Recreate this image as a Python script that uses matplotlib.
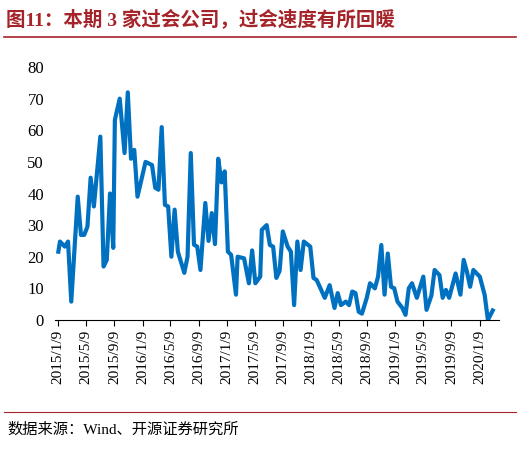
import numpy as np
import pandas as pd
import matplotlib
matplotlib.use('Agg')
import matplotlib.pyplot as plt

plt.rcParams['font.family'] = ['Liberation Serif', 'Noto Sans CJK SC']

# 周序号（自2015/1/9起）与过会家数
weeks = [0, 1, 4, 6, 8, 12, 14, 16, 18, 20, 22, 26, 28, 30, 32, 34, 35, 38, 41, 43,
         45, 47, 49, 54, 58, 60, 62, 64, 66, 68, 70, 72, 74, 78, 80, 82, 84, 86, 88, 91,
         93, 95, 97, 99, 101, 103, 105, 107, 110, 111, 115, 118, 120, 122, 125, 126, 129, 131, 133, 135,
         137, 139, 142, 144, 146, 148, 150, 152, 156, 158, 160, 165, 168, 171, 173, 175, 178, 180, 182, 184,
         186, 188, 191, 193, 196, 198, 200, 202, 204, 206, 208, 210, 213, 215, 217, 219, 222, 226, 228, 231,
         233, 236, 238, 240, 242, 246, 249, 251, 253, 255, 257, 261, 264, 266, 269]
values = [21.6, 24.8, 23.2, 24.8, 5.8, 39, 26.9, 26.9, 29.5, 45, 35.9, 58, 16.9, 19, 40, 22.8, 63.3, 70, 52.8, 72,
          51, 53.8, 39, 50, 49, 41.8, 41.2, 61, 36.4, 35.9, 20, 34.9, 21.6, 14.9, 20, 52.8, 23.8, 23.2, 15.8, 37,
          25, 33.8, 24, 51, 43.5, 47, 21.6, 20.6, 8, 20, 19.5, 11.6, 22, 11.6, 13.7, 28.5, 30, 23.7, 23.2, 13.3,
          15.5, 28, 23.2, 21.6, 4.7, 24.8, 15.8, 24.8, 23.2, 13.3, 12.6, 7, 11, 3.8, 8.5, 4.7, 5.8, 4.7, 9, 8.5,
          2.6, 2, 7, 11.6, 10, 13.7, 23.7, 8, 21, 10.5, 10, 5.8, 3.8, 1.6, 10, 11.6, 7, 13.7, 3.2, 7.7,
          15.8, 14.2, 7, 9.5, 7, 14.7, 8, 19, 15.3, 10.5, 15.8, 13.7, 7.9, 0, 3]

start = pd.Timestamp('2015-01-09')
tick_dates = [pd.Timestamp(y, m, 9) for y in range(2015, 2021) for m in (1, 5, 9)
              if pd.Timestamp(y, m, 9) <= pd.Timestamp('2020-01-09')]
tick_labels = [f"{d.year}/{d.month}/9" for d in tick_dates]

fig = plt.figure(figsize=(5.2, 4.5), dpi=100)
ax = fig.add_axes([0.106, 0.289, 0.854, 0.562])

ax.plot(weeks, values, color='#0070C0', lw=3, solid_joinstyle='round')

tick_pos = [(d - start).days / 7 for d in tick_dates]
ax.set_xticks(tick_pos)
ax.set_xticklabels(tick_labels, rotation=90, fontsize=11)
ax.set_xlim(-2, 273)
ax.set_ylim(0, 80)
ax.set_yticks(range(0, 81, 10))
ax.tick_params(axis='y', length=0, labelsize=12, pad=8)
ax.tick_params(axis='x', direction='out', length=4, pad=3)
for s in ['top', 'right', 'left']:
    ax.spines[s].set_visible(False)

# 标题与来源
fig.text(0.012, 0.945, '图11：本期 3 家过会公司，过会速度有所回暖', fontsize=14, fontweight='bold',
         color='#A5242A', family=['Liberation Serif', 'Noto Sans CJK SC'])
fig.add_artist(plt.Line2D([0.008, 0.992], [0.918, 0.918], color='#A5242A', lw=1.2))
fig.add_artist(plt.Line2D([0.008, 0.992], [0.085, 0.085], color='#A5242A', lw=0.8))
fig.text(0.015, 0.035, '数据来源：Wind、开源证券研究所', fontsize=11, color='black')

fig.savefig('out.png', dpi=100)
